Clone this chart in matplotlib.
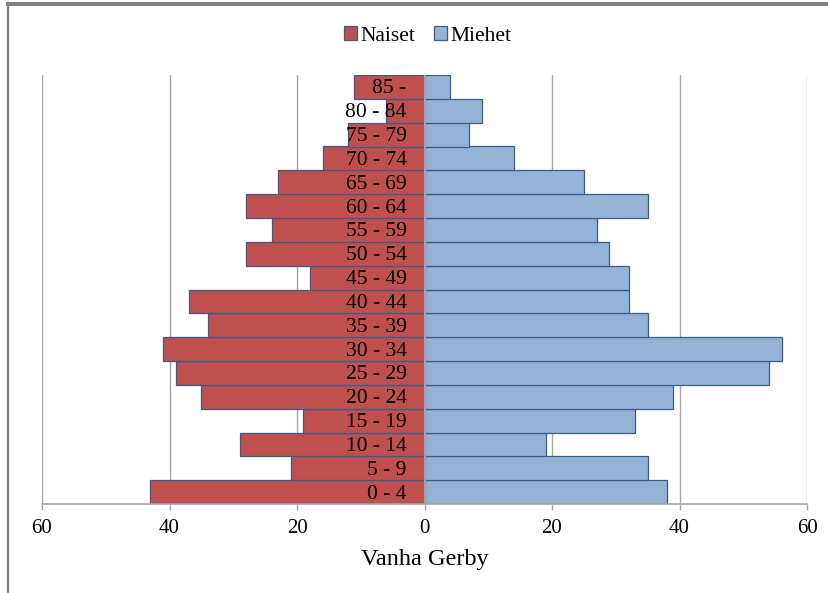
import matplotlib
matplotlib.use("Agg")
import matplotlib.pyplot as plt
import matplotlib.transforms as mtransforms
from matplotlib.patches import Patch
from matplotlib.lines import Line2D
import numpy as np

# Data (bottom to top)
age_groups = ["0 - 4", "5 - 9", "10 - 14", "15 - 19", "20 - 24", "25 - 29",
              "30 - 34", "35 - 39", "40 - 44", "45 - 49", "50 - 54", "55 - 59",
              "60 - 64", "65 - 69", "70 - 74", "75 - 79", "80 - 84", "85 -"]
naiset = [43, 21, 29, 19, 35, 39, 41, 34, 37, 18, 28, 24, 28, 23, 16, 12, 6, 11]
miehet = [38, 35, 19, 33, 39, 54, 56, 35, 32, 32, 29, 27, 35, 25, 14, 7, 9, 4]
xticks = [-60, -40, -20, 0, 20, 40, 60]
xlabel = "Vanha Gerby"
series_names = ["Naiset", "Miehet"]

red = "#C0504D"
blue = "#95B3D7"
edge = "#385D8A"
grid_c = "#A6A6A6"

plt.rcParams['font.family'] = ['Liberation Serif', 'DejaVu Serif']

fig = plt.figure(figsize=(8.29, 5.93), dpi=100)
ax = fig.add_axes([42/829, 1-504/593, (807-42)/829, (504-75)/593])

y = np.arange(len(age_groups))
ax.barh(y, [-v for v in naiset], height=1.0, color=red, edgecolor=edge, linewidth=0.9, zorder=2)
ax.barh(y, miehet, height=1.0, color=blue, edgecolor=edge, linewidth=0.9, zorder=2)

ax.set_xlim(-60, 60)
ax.set_ylim(-0.5, len(age_groups) - 0.5)

for xv in xticks:
    if xv != 0:
        ax.axvline(xv, color=grid_c, linewidth=1.0, zorder=1)
ax.axvline(0, color=grid_c, linewidth=1.4, zorder=3)

for s in ["top", "right", "left"]:
    ax.spines[s].set_visible(False)
ax.spines["bottom"].set_color(grid_c)
ax.spines["bottom"].set_linewidth(1.2)
ax.set_yticks([])
ax.set_xticks(xticks)
ax.set_xticklabels([str(abs(v)) for v in xticks], fontsize=15)
ax.tick_params(axis='x', direction='out', length=4.5, width=1.0, color=grid_c, pad=6)

trans = mtransforms.offset_copy(ax.transData, fig=fig, x=-18, y=-2, units='dots')
for yi, lab in zip(y, age_groups):
    ax.text(0, yi, lab, transform=trans, ha='right', va='center', fontsize=15.5,
            color='black', zorder=5)

ax.set_xlabel(xlabel, fontsize=17.5, labelpad=8)

handles = [Patch(facecolor=red, edgecolor=edge, linewidth=0.9),
           Patch(facecolor=blue, edgecolor=edge, linewidth=0.9)]
fig.legend(handles, series_names, loc='center', bbox_to_anchor=(0.516, 1-36/593),
           ncol=2, frameon=False, fontsize=15.5, handlelength=0.6, handleheight=0.6,
           handletextpad=0.15, columnspacing=0.9)

# outer border lines
fig.add_artist(Line2D([8/829, 1], [1-4/593, 1-4/593], transform=fig.transFigure,
                      color="#808080", linewidth=2.9))
fig.add_artist(Line2D([8.5/829, 8.5/829], [0, 1-3/593], transform=fig.transFigure,
                      color="#808080", linewidth=1.6))

fig.savefig("out.png", dpi=100)
